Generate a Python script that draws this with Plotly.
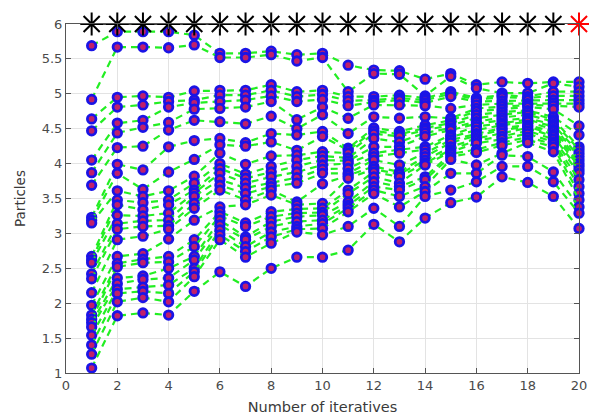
import plotly.graph_objects as go

iterations = list(range(1, 21))

# particle positions read per iteration (each column: 25 particles)
it01 = [5.69, 4.92, 4.64, 4.47, 4.05, 3.87, 3.69, 3.23, 3.19, 3.15, 2.67, 2.62, 2.58, 2.42, 2.35, 2.15, 1.97, 1.83, 1.77, 1.72, 1.66, 1.54, 1.40, 1.27, 1.07]
it02 = [5.89, 5.67, 4.95, 4.81, 4.58, 4.44, 4.23, 3.99, 3.86, 3.61, 3.48, 3.41, 3.26, 3.14, 3.06, 2.91, 2.67, 2.57, 2.52, 2.36, 2.28, 2.20, 2.14, 2.02, 1.82]
it03 = [5.89, 5.67, 4.97, 4.84, 4.62, 4.52, 4.25, 3.91, 3.63, 3.53, 3.44, 3.34, 3.25, 3.18, 3.10, 2.96, 2.71, 2.63, 2.58, 2.39, 2.34, 2.23, 2.17, 2.08, 1.86]
it04 = [5.89, 5.66, 4.95, 4.89, 4.81, 4.59, 4.48, 4.24, 3.88, 3.61, 3.48, 3.41, 3.29, 3.19, 3.11, 3.06, 2.92, 2.67, 2.59, 2.50, 2.36, 2.26, 2.14, 2.02, 1.83]
it05 = [5.84, 5.70, 5.04, 4.91, 4.87, 4.78, 4.62, 4.33, 4.06, 3.82, 3.72, 3.62, 3.58, 3.53, 3.43, 3.36, 3.19, 2.91, 2.81, 2.67, 2.62, 2.50, 2.45, 2.38, 2.17]
it06 = [5.58, 5.52, 5.05, 4.98, 4.89, 4.79, 4.60, 4.36, 4.27, 4.15, 4.00, 3.93, 3.86, 3.77, 3.69, 3.62, 3.38, 3.31, 3.25, 3.19, 3.12, 3.05, 2.98, 2.91, 2.45]
it07 = [5.58, 5.52, 5.05, 4.98, 4.91, 4.81, 4.57, 4.30, 4.25, 3.99, 3.85, 3.79, 3.72, 3.65, 3.57, 3.48, 3.41, 3.15, 3.10, 2.95, 2.91, 2.81, 2.74, 2.66, 2.24]
it08 = [5.61, 5.56, 5.13, 5.05, 4.97, 4.89, 4.68, 4.43, 4.31, 4.11, 3.96, 3.88, 3.81, 3.72, 3.67, 3.62, 3.55, 3.31, 3.24, 3.17, 3.10, 3.02, 2.95, 2.86, 2.50]
it09 = [5.56, 5.47, 5.03, 4.96, 4.89, 4.63, 4.50, 4.41, 4.19, 4.12, 4.05, 3.96, 3.88, 3.80, 3.72, 3.45, 3.41, 3.35, 3.29, 3.24, 3.17, 3.10, 3.06, 3.02, 2.66]
it10 = [5.58, 5.52, 5.05, 4.99, 4.92, 4.81, 4.70, 4.46, 4.39, 4.17, 4.11, 4.05, 3.98, 3.92, 3.86, 3.71, 3.43, 3.36, 3.30, 3.26, 3.19, 3.14, 3.07, 2.98, 2.66]
it11 = [5.41, 5.03, 4.96, 4.90, 4.83, 4.65, 4.43, 4.22, 4.19, 4.15, 4.08, 4.04, 4.00, 3.93, 3.86, 3.83, 3.79, 3.62, 3.57, 3.45, 3.40, 3.36, 3.31, 3.10, 2.76]
it12 = [5.34, 5.29, 4.96, 4.91, 4.88, 4.84, 4.67, 4.51, 4.47, 4.43, 4.36, 4.24, 4.15, 4.10, 4.05, 3.96, 3.92, 3.88, 3.81, 3.74, 3.67, 3.62, 3.57, 3.36, 3.13]
it13 = [5.33, 5.28, 4.98, 4.94, 4.91, 4.84, 4.65, 4.46, 4.42, 4.39, 4.31, 4.24, 4.20, 4.15, 3.98, 3.88, 3.85, 3.81, 3.72, 3.67, 3.62, 3.53, 3.38, 3.10, 2.88]
it14 = [5.21, 4.97, 4.94, 4.91, 4.87, 4.83, 4.67, 4.55, 4.51, 4.48, 4.44, 4.39, 4.24, 4.20, 4.15, 4.10, 4.05, 4.01, 3.98, 3.81, 3.77, 3.67, 3.60, 3.53, 3.22]
it15 = [5.29, 5.25, 5.03, 5.00, 4.96, 4.79, 4.65, 4.62, 4.58, 4.55, 4.51, 4.48, 4.41, 4.38, 4.34, 4.30, 4.24, 4.20, 4.17, 4.14, 4.10, 4.06, 3.86, 3.62, 3.44]
it16 = [5.13, 5.08, 4.94, 4.92, 4.89, 4.84, 4.79, 4.75, 4.70, 4.65, 4.60, 4.57, 4.53, 4.48, 4.43, 4.40, 4.36, 4.33, 4.29, 4.20, 4.16, 3.98, 3.86, 3.74, 3.52]
it17 = [5.17, 5.01, 4.98, 4.95, 4.90, 4.86, 4.82, 4.78, 4.74, 4.70, 4.66, 4.62, 4.58, 4.55, 4.51, 4.48, 4.44, 4.39, 4.35, 4.30, 4.26, 4.15, 4.12, 3.96, 3.81]
it18 = [5.15, 5.01, 4.96, 4.94, 4.91, 4.86, 4.84, 4.81, 4.76, 4.74, 4.70, 4.65, 4.63, 4.60, 4.55, 4.53, 4.51, 4.47, 4.43, 4.38, 4.34, 4.30, 4.10, 3.96, 3.73]
it19 = [5.17, 5.15, 5.03, 4.97, 4.91, 4.87, 4.83, 4.78, 4.67, 4.63, 4.60, 4.56, 4.53, 4.49, 4.46, 4.42, 4.39, 4.35, 4.31, 4.28, 4.24, 4.17, 3.88, 3.74, 3.53]
it20 = [5.17, 5.10, 5.03, 4.97, 4.91, 4.86, 4.81, 4.54, 4.41, 4.24, 4.20, 4.15, 4.10, 4.05, 4.00, 3.96, 3.91, 3.86, 3.77, 3.67, 3.57, 3.48, 3.38, 3.29, 3.07]

best_value = [6] * 20

columns = [it01, it02, it03, it04, it05, it06, it07, it08, it09, it10,
           it11, it12, it13, it14, it15, it16, it17, it18, it19, it20]
columns = [sorted(c, reverse=True) for c in columns]
n_particles = min(len(c) for c in columns)

fig = go.Figure()
for p in range(n_particles):
    fig.add_trace(go.Scatter(
        x=iterations, y=[c[p] for c in columns], mode="lines+markers",
        line=dict(color="#22ee22", width=2.2, dash="7px,5px"),
        marker=dict(symbol="circle", size=8.5, color="#c0206a",
                    line=dict(color="#1a14e6", width=2.8)),
        cliponaxis=False, showlegend=False, hoverinfo="skip"))

fig.add_trace(go.Scatter(
    x=iterations[:-1], y=best_value[:-1], mode="lines+markers",
    line=dict(color="black", width=1.5),
    marker=dict(symbol="asterisk-open", size=19, color="black",
                line=dict(color="black", width=2)),
    cliponaxis=False, showlegend=False, hoverinfo="skip"))
fig.add_trace(go.Scatter(
    x=iterations[-1:], y=best_value[-1:], mode="markers",
    marker=dict(symbol="asterisk-open", size=19, color="red",
                line=dict(color="red", width=2)),
    cliponaxis=False, showlegend=False, hoverinfo="skip"))

FONT = "DejaVu Sans, Arial, sans-serif"
axis_common = dict(showgrid=True, gridcolor="#e3e3e3", gridwidth=1,
                   showline=True, linecolor="#555555", linewidth=1,
                   mirror="ticks", ticks="inside", ticklen=5, tickcolor="#555555",
                   zeroline=False,
                   tickfont=dict(family=FONT, size=13, color="#4a4a4a"))

fig.update_xaxes(range=[0, 20], tickmode="array", tickvals=list(range(0, 21, 2)),
                 title=dict(text="Number of iteratives", standoff=10,
                            font=dict(family=FONT, size=14.5, color="#3a3a3a")),
                 **axis_common)
fig.update_yaxes(range=[1, 6], tickmode="array",
                 tickvals=[1, 1.5, 2, 2.5, 3, 3.5, 4, 4.5, 5, 5.5, 6],
                 ticktext=["1", "1.5", "2", "2.5", "3", "3.5", "4", "4.5", "5", "5.5", "6"],
                 title=dict(text="Particles", standoff=12,
                            font=dict(family=FONT, size=13.5, color="#3a3a3a")),
                 **axis_common)

fig.update_layout(width=589, height=417, margin=dict(l=66, r=10, t=24, b=44, autoexpand=False),
                  plot_bgcolor="white", paper_bgcolor="white", hovermode=False)

fig.write_html("out.html", config={"displayModeBar": False, "staticPlot": True},
               post_script="document.body.style.margin='0';document.body.style.overflow='hidden';")
